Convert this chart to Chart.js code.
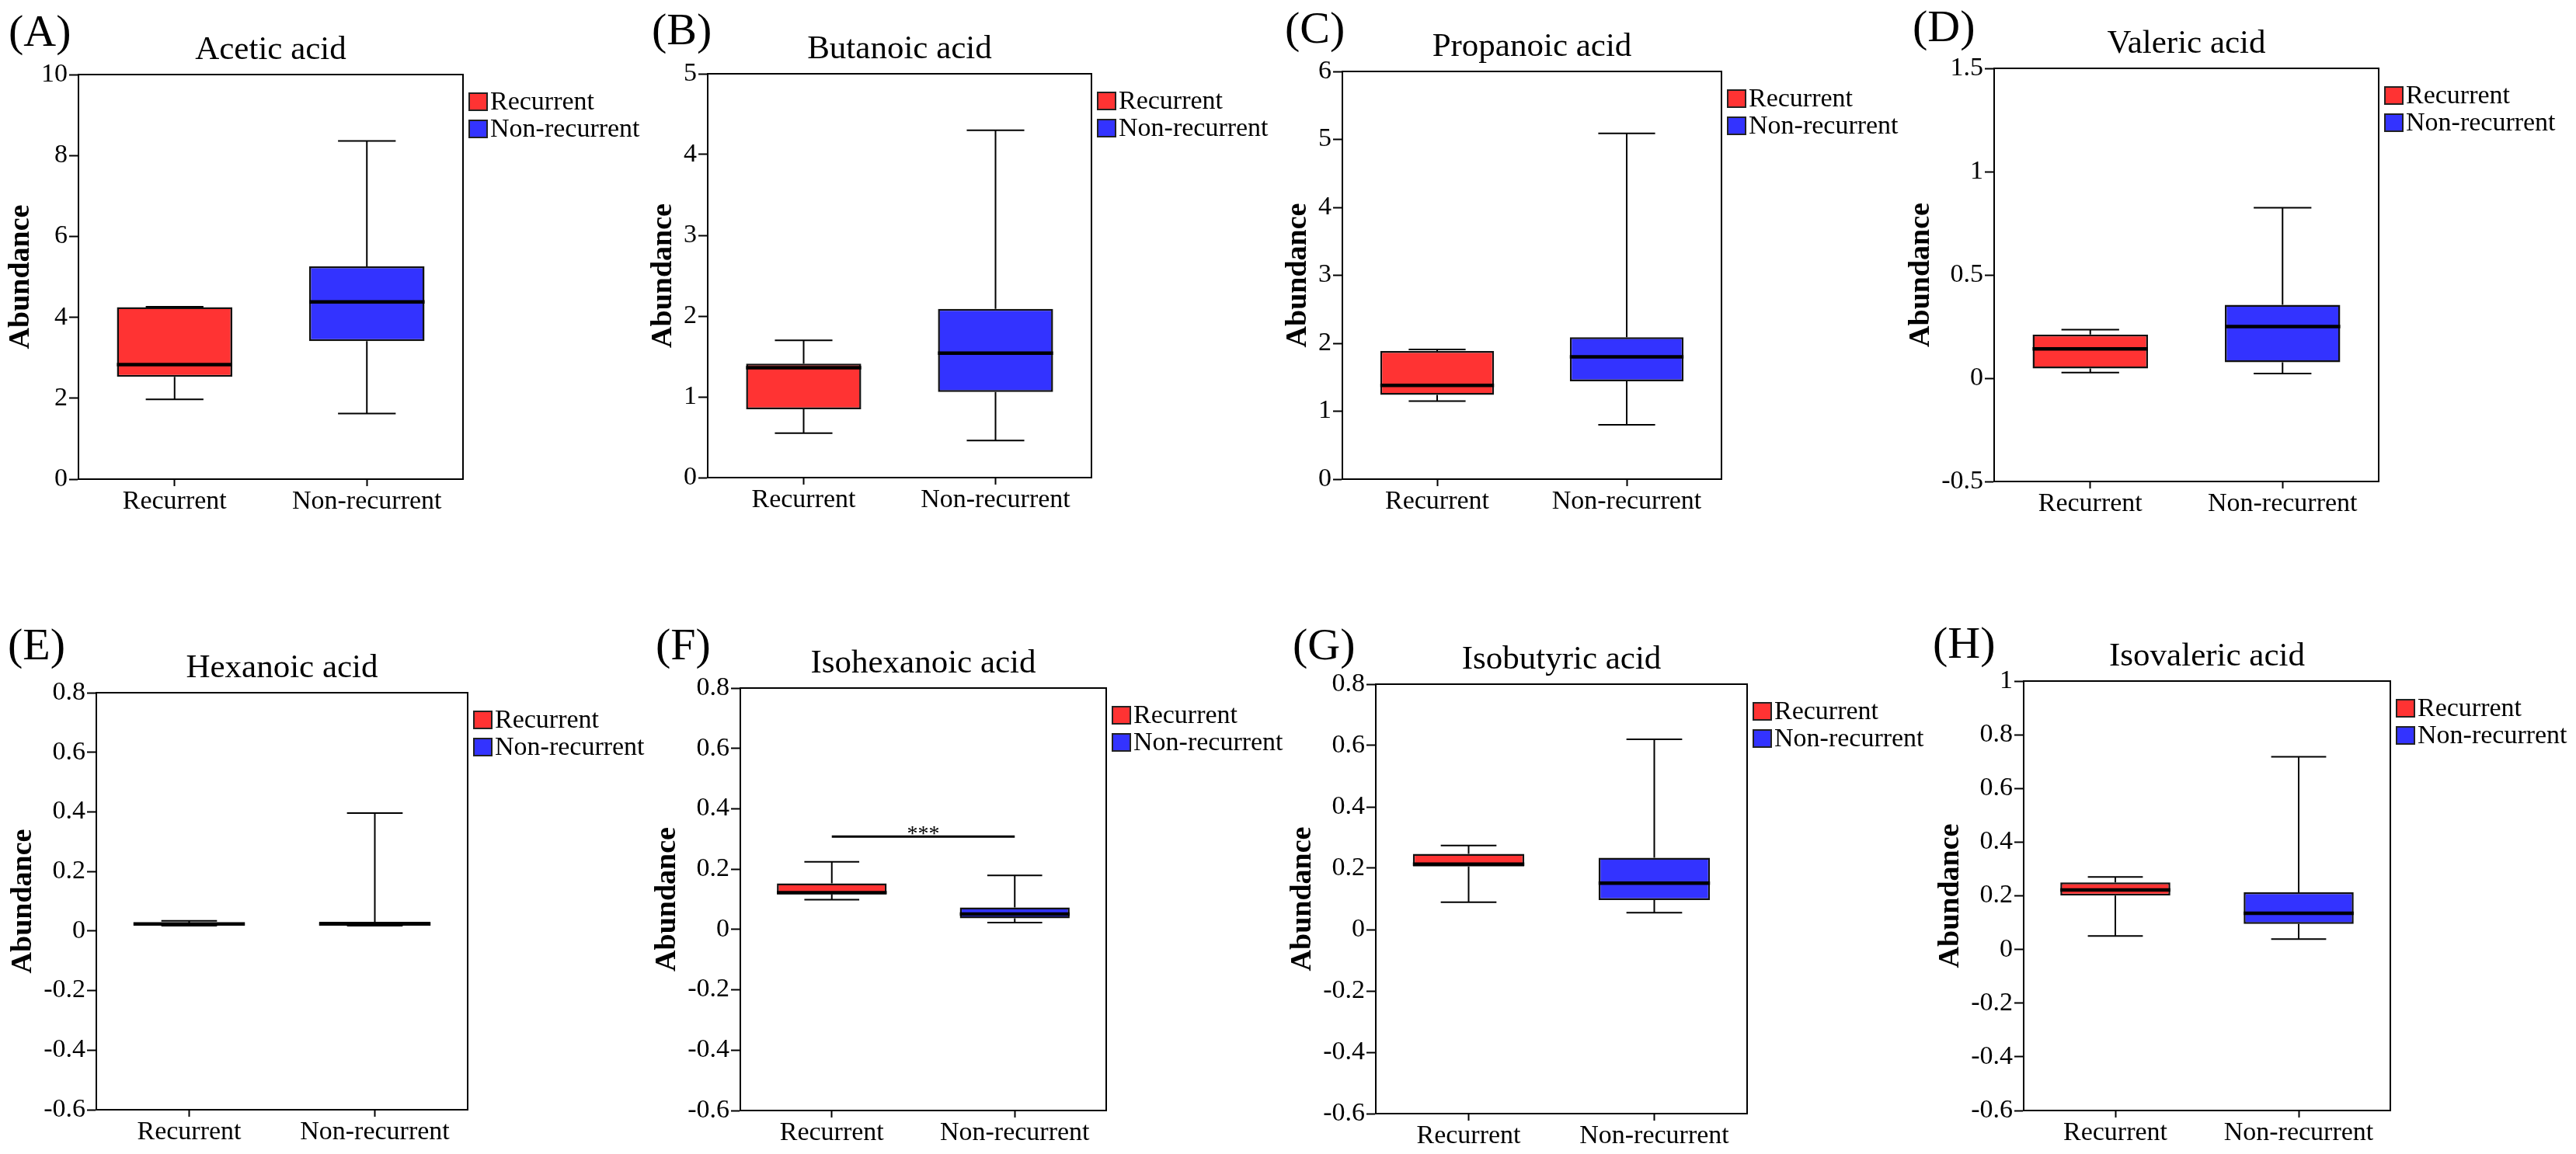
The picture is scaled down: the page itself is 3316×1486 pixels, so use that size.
<!DOCTYPE html>
<html>
<head>
<meta charset="utf-8">
<script src="https://cdn.jsdelivr.net/npm/chart.js@4.4.0/dist/chart.umd.min.js"></script>
<style>
  body { margin:0; background:#fff; width:3316px; height:1486px; position:relative; overflow:hidden; font-family:"Liberation Serif","Times New Roman",serif; }
  canvas { position:absolute; }
  .tag { position:absolute; font-size:58px; line-height:1; color:#000; white-space:nowrap; }
</style>
</head>
<body>
<script>
// data
const groups = ['Recurrent', 'Non-recurrent'];
const acids = ['Acetic acid', 'Butanoic acid', 'Propanoic acid', 'Valeric acid',
               'Hexanoic acid', 'Isohexanoic acid', 'Isobutyric acid', 'Isovaleric acid'];
const tags = ['(A)', '(B)', '(C)', '(D)', '(E)', '(F)', '(G)', '(H)'];

// min, Q1, median, Q3, max
const recurrentStats = [
  [1.97, 2.53, 2.83, 4.25, 4.26],
  [0.55, 0.845, 1.36, 1.41, 1.70],
  [1.15, 1.24, 1.38, 1.885, 1.91],
  [0.027, 0.047, 0.142, 0.211, 0.235],
  [0.018, 0.019, 0.024, 0.028, 0.034],
  [0.099, 0.117, 0.122, 0.153, 0.224],
  [0.089, 0.206, 0.213, 0.247, 0.274],
  [0.050, 0.201, 0.222, 0.250, 0.270]
];
const nonRecurrentStats = [
  [1.62, 3.41, 4.38, 5.26, 8.36],
  [0.46, 1.06, 1.54, 2.09, 4.30],
  [0.80, 1.44, 1.80, 2.09, 5.09],
  [0.023, 0.077, 0.25, 0.355, 0.825],
  [0.018, 0.018, 0.024, 0.031, 0.396],
  [0.023, 0.037, 0.051, 0.073, 0.179],
  [0.055, 0.096, 0.151, 0.234, 0.62],
  [0.039, 0.095, 0.135, 0.213, 0.718]
];

const yTicks = [
  [0, 2, 4, 6, 8, 10],
  [0, 1, 2, 3, 4, 5],
  [0, 1, 2, 3, 4, 5, 6],
  [-0.5, 0, 0.5, 1, 1.5],
  [-0.6, -0.4, -0.2, 0, 0.2, 0.4, 0.6, 0.8],
  [-0.6, -0.4, -0.2, 0, 0.2, 0.4, 0.6, 0.8],
  [-0.6, -0.4, -0.2, 0, 0.2, 0.4, 0.6, 0.8],
  [-0.6, -0.4, -0.2, 0, 0.2, 0.4, 0.6, 0.8, 1]
];

// significance bar between the two groups (only panel F)
const sigLevel = [null, null, null, null, null, 0.308, null, null];
const sigLabel = '***';

// layout (page px): canvas [x, y, w, h], plot area [left, top, right, bottom], tag [left, baseline]
const canvasRects = [
  [0, 0, 860, 700], [815, 0, 860, 700], [1630, 0, 870, 700], [2440, 0, 876, 700],
  [0, 745, 860, 741], [815, 745, 860, 741], [1630, 745, 870, 741], [2440, 745, 876, 741]
];
const plotRects = [
  [101, 96, 596, 617], [911, 95, 1405, 615], [1728, 92, 2216, 617], [2567, 88, 3062, 620],
  [124, 892, 602, 1429], [953, 886, 1424, 1430], [1771, 881, 2249, 1434], [2605, 877, 3077, 1430]
];
const tagPos = [[11, 60], [839, 58], [1654, 56], [2462, 54], [10, 850], [844, 850], [1664, 850], [2488, 848]];

const RED = '#FF3333', BLUE = '#3333FF';
const FONT = '"Liberation Serif", "Times New Roman", serif';
Chart.defaults.font.family = FONT;
Chart.defaults.color = '#000';

// whiskers, caps and median lines, placed with the chart's own scales
const boxWhiskers = {
  id: 'boxWhiskers',
  afterDatasetsDraw(chart, args, opts) {
    const { ctx, scales: { x, y } } = chart;
    ctx.save();
    ctx.strokeStyle = '#000';
    opts.stats.forEach((s, i) => {
      const bar = chart.getDatasetMeta(i).data[i];
      const cx = x.getPixelForValue(i);
      const half = bar.width / 2;
      const [mn, q1, md, q3, mx] = s.map(v => y.getPixelForValue(v));
      ctx.lineWidth = 2;
      ctx.beginPath();
      ctx.moveTo(cx, q3); ctx.lineTo(cx, mx);
      ctx.moveTo(cx - half / 2, mx); ctx.lineTo(cx + half / 2, mx);
      ctx.moveTo(cx, q1); ctx.lineTo(cx, mn);
      ctx.moveTo(cx - half / 2, mn); ctx.lineTo(cx + half / 2, mn);
      ctx.stroke();
      ctx.lineWidth = 4.5;
      ctx.beginPath();
      ctx.moveTo(cx - half, md); ctx.lineTo(cx + half, md);
      ctx.stroke();
    });
    if (opts.sig != null) {
      const mid = (x.getPixelForValue(0) + x.getPixelForValue(1)) / 2;
      ctx.fillStyle = '#000';
      ctx.font = '28px ' + FONT;
      ctx.textAlign = 'center';
      ctx.textBaseline = 'alphabetic';
      ctx.fillText(sigLabel, mid, y.getPixelForValue(opts.sig) + 5);
    }
    ctx.restore();
  }
};

// full frame round the plot area
const frame = {
  id: 'frame',
  beforeDatasetsDraw(chart) {
    const { ctx, chartArea: a } = chart;
    ctx.save();
    ctx.strokeStyle = '#000';
    ctx.lineWidth = 2;
    ctx.strokeRect(a.left, a.top, a.right - a.left, a.bottom - a.top);
    ctx.restore();
  }
};

// compact legend just right of the frame, from the box datasets
const boxLegend = {
  id: 'boxLegend',
  afterDraw(chart, args, opts) {
    const { ctx, chartArea: a } = chart;
    ctx.save();
    ctx.font = '34px ' + FONT;
    ctx.textAlign = 'left';
    ctx.textBaseline = 'middle';
    chart.data.datasets.filter(d => d.type !== 'line').forEach((d, i) => {
      const yc = a.top + opts.top + i * opts.step;
      const x0 = a.right + opts.gap;
      ctx.fillStyle = d.backgroundColor;
      ctx.fillRect(x0, yc - 11, 23, 22);
      ctx.strokeStyle = '#222';
      ctx.lineWidth = 2;
      ctx.strokeRect(x0, yc - 11, 23, 22);
      ctx.fillStyle = '#000';
      ctx.fillText(d.label, x0 + 27, yc + 1);
    });
    ctx.restore();
  }
};

function makePanel(p) {
  const [cx, cy, cw, ch] = canvasRects[p];
  const canvas = document.createElement('canvas');
  canvas.width = cw; canvas.height = ch;
  canvas.style.left = cx + 'px'; canvas.style.top = cy + 'px';
  canvas.style.width = cw + 'px'; canvas.style.height = ch + 'px';
  document.body.appendChild(canvas);

  const tag = document.createElement('div');
  tag.className = 'tag';
  tag.textContent = tags[p];
  tag.style.left = tagPos[p][0] + 'px';
  tag.style.top = (tagPos[p][1] - 49) + 'px';
  document.body.appendChild(tag);

  const r = recurrentStats[p], n = nonRecurrentStats[p];
  const boxStyle = { borderColor: '#111', borderWidth: 2.5, borderSkipped: false, grouped: false,
                     barPercentage: 0.6, categoryPercentage: 1.0 };
  const datasets = [
    Object.assign({ label: groups[0], data: [[r[1], r[3]], null], backgroundColor: RED }, boxStyle),
    Object.assign({ label: groups[1], data: [null, [n[1], n[3]]], backgroundColor: BLUE }, boxStyle)
  ];
  if (sigLevel[p] != null) {
    datasets.push({ type: 'line', label: 'sig', data: [sigLevel[p], sigLevel[p]],
                    borderColor: '#000', borderWidth: 3, pointRadius: 0 });
  }
  const ticks = yTicks[p];

  const chart = new Chart(canvas, {
    type: 'bar',
    data: { labels: groups, datasets },
    plugins: [frame, boxWhiskers, boxLegend],
    options: {
      responsive: false,
      animation: false,
      devicePixelRatio: 1,
      layout: { padding: { left: 0, top: plotRects[p][1] - cy - 58, right: 240, bottom: 0 } },
      scales: {
        x: {
          offset: true,
          grid: { offset: false, drawOnChartArea: false, tickLength: 9, tickWidth: 2, tickColor: '#000' },
          border: { color: '#000', width: 2 },
          ticks: { font: { size: 34, lineHeight: 1.1 }, padding: 1, color: '#000', maxRotation: 0, autoSkip: false }
        },
        y: {
          min: ticks[0], max: ticks[ticks.length - 1],
          afterBuildTicks: s => { s.ticks = ticks.map(v => ({ value: v })); },
          grid: { drawOnChartArea: false, tickLength: 12, tickWidth: 2, tickColor: '#000' },
          border: { color: '#000', width: 2 },
          ticks: { font: { size: 34, lineHeight: 1.1 }, padding: 2, color: '#000', callback: v => String(v) },
          title: { display: true, text: 'Abundance', font: { size: 38, weight: 'bold', lineHeight: 1.15 },
                   padding: { top: 2, bottom: 2 }, color: '#000' }
        }
      },
      plugins: {
        tooltip: { enabled: false },
        legend: { display: false },
        title: { display: true, text: acids[p], fullSize: false, color: '#000',
                 font: { size: 43, weight: 'normal', lineHeight: 1.2 }, padding: { top: 0, bottom: 5 } },
        boxWhiskers: { stats: [r, n], sig: sigLevel[p] },
        boxLegend: { gap: 8, top: 35, step: 35 }
      }
    }
  });

  // nudge the layout padding until the plot area sits on its target rectangle
  const [tl, tt, tr, tb] = plotRects[p];
  for (let k = 0; k < 4; k++) {
    const a = chart.chartArea;
    const pad = Object.assign({}, chart.options.layout.padding);
    pad.left += (tl - cx) - a.left;
    pad.top += (tt - cy) - a.top;
    pad.right += a.right - (tr - cx);
    pad.bottom += a.bottom - (tb - cy);
    chart.options.layout.padding = pad;
    chart.update('none');
  }
}

for (let p = 0; p < acids.length; p++) makePanel(p);
</script>
</body>
</html>
